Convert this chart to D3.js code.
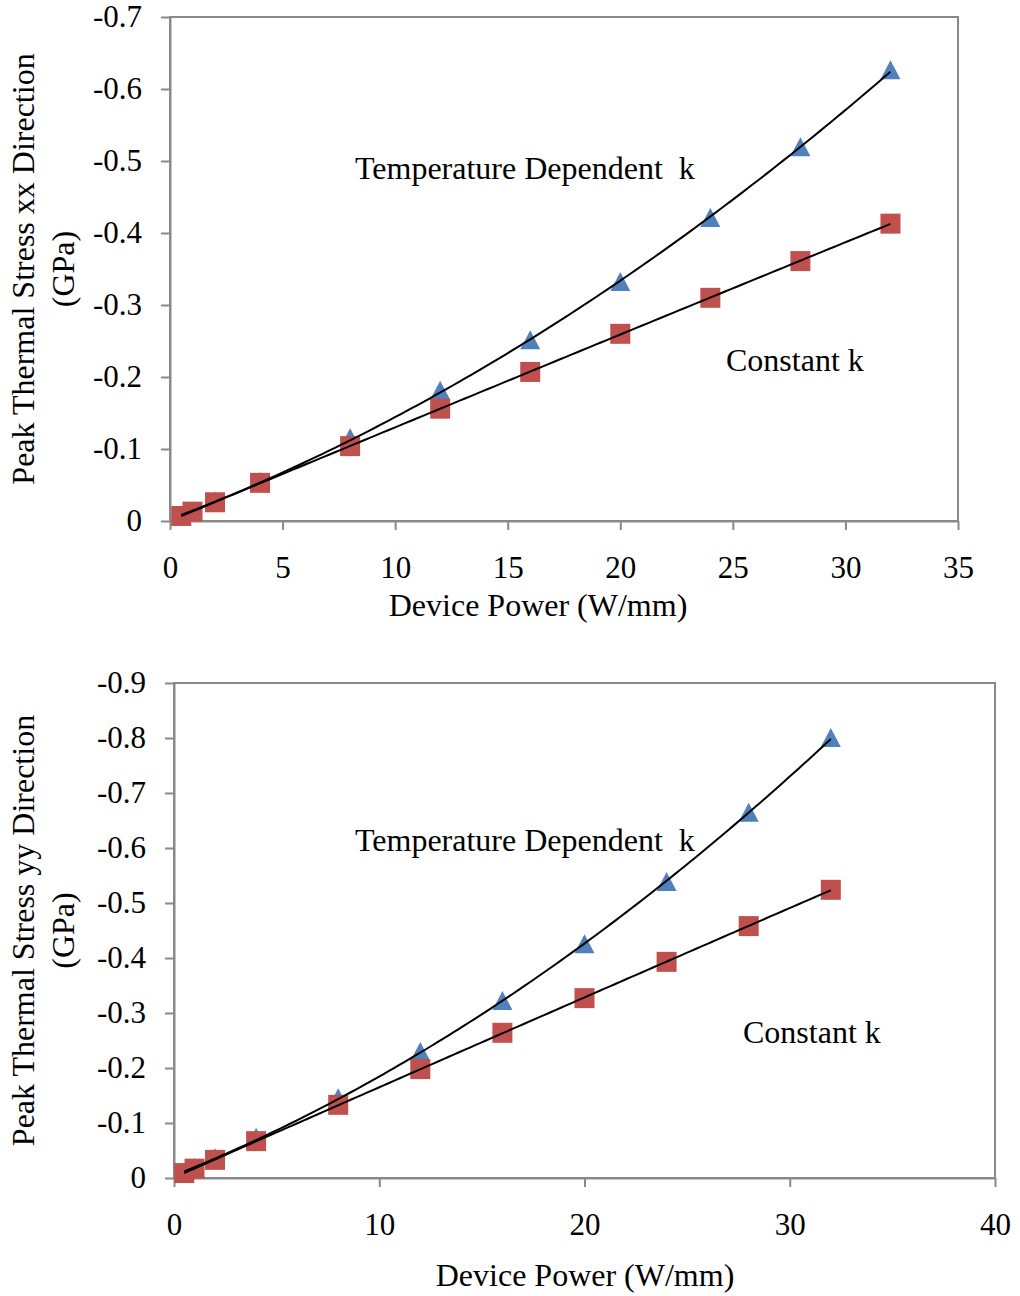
<!DOCTYPE html>
<html>
<head>
<meta charset="utf-8">
<script src="https://cdn.jsdelivr.net/npm/d3@7"></script>
<style>
  body { margin: 0; background: #fff; }
  text { font-family: "Liberation Serif", "Times New Roman", serif; fill: #000; }
</style>
</head>
<body>
<svg id="chart" width="1020" height="1296"></svg>
<script>
// device power (W/mm)
var power = [0.5, 1, 2, 4, 8, 12, 16, 20, 24, 28, 32];

// peak thermal stress xx (GPa)
var xxTempDep = [-0.007, -0.013, -0.027, -0.054, -0.115, -0.181, -0.251, -0.332, -0.421, -0.519, -0.626];
var xxConst   = [-0.007, -0.013, -0.026, -0.053, -0.104, -0.156, -0.207, -0.260, -0.310, -0.361, -0.413];

// peak thermal stress yy (GPa)
var yyTempDep = [-0.009, -0.018, -0.036, -0.073, -0.145, -0.229, -0.322, -0.425, -0.538, -0.664, -0.800];
var yyConst   = [-0.009, -0.017, -0.033, -0.067, -0.133, -0.198, -0.264, -0.327, -0.393, -0.458, -0.524];

var xTicksTop = [0, 5, 10, 15, 20, 25, 30, 35];
var yTicksTop = [0, -0.1, -0.2, -0.3, -0.4, -0.5, -0.6, -0.7];
var xTicksBot = [0, 10, 20, 30, 40];
var yTicksBot = [0, -0.1, -0.2, -0.3, -0.4, -0.5, -0.6, -0.7, -0.8, -0.9];

var svg = d3.select('#chart');
var grey = '#898989';
var blue = '#4f81bd';
var red = '#c0504d';

// least squares quadratic, like the spreadsheet trendline
function quadFit(xs, ys){
  var n = xs.length, s = [0,0,0,0,0], t = [0,0,0];
  for(var i = 0; i < n; i++){
    var x = xs[i], p = 1;
    for(var k = 0; k < 5; k++){ s[k] += p; if(k < 3) t[k] += p * ys[i]; p *= x; }
  }
  var m = [[s[0], s[1], s[2], t[0]], [s[1], s[2], s[3], t[1]], [s[2], s[3], s[4], t[2]]];
  for(var c = 0; c < 3; c++){
    for(var r = c + 1; r < 3; r++){
      var f = m[r][c] / m[c][c];
      for(var j = c; j < 4; j++) m[r][j] -= f * m[c][j];
    }
  }
  var a = [0,0,0];
  for(var r2 = 2; r2 >= 0; r2--){
    var v = m[r2][3];
    for(var j2 = r2 + 1; j2 < 3; j2++) v -= m[r2][j2] * a[j2];
    a[r2] = v / m[r2][r2];
  }
  return function(x){ return a[0] + a[1] * x + a[2] * x * x; };
}

function fmtY(d){ return d === 0 ? '0' : d.toFixed(1); }
function fmtX(d){ return String(d); }

function drawChart(opt){
  var x = d3.scaleLinear().domain(opt.xDomain).range([opt.left, opt.right]);
  var y = d3.scaleLinear().domain(opt.yDomain).range([opt.bottom, opt.top]);
  var g = svg.append('g');

  // frame
  g.append('rect')
    .attr('x', opt.left).attr('y', opt.top)
    .attr('width', opt.right - opt.left).attr('height', opt.bottom - opt.top)
    .attr('fill', 'none').attr('stroke', grey).attr('stroke-width', 2);

  var xAxis = g.append('g')
    .attr('transform', 'translate(0,' + opt.bottom + ')')
    .call(d3.axisBottom(x).tickValues(opt.xTicks).tickSize(9).tickSizeOuter(0).tickPadding(26).tickFormat(fmtX));
  var yAxis = g.append('g')
    .attr('transform', 'translate(' + opt.left + ',0)')
    .call(d3.axisLeft(y).tickValues(opt.yTicks).tickSize(9).tickSizeOuter(0).tickPadding(19).tickFormat(fmtY));
  [xAxis, yAxis].forEach(function(a){
    a.select('.domain').attr('stroke', grey).attr('stroke-width', 2);
    a.selectAll('.tick line').attr('stroke', grey).attr('stroke-width', 2);
    a.selectAll('.tick text').style('font-size', '31px').attr('fill', '#000')
      .style('font-family', '"Liberation Serif", serif');
  });

  var tri = opt.series[0], sq = opt.series[1];

  // triangles
  g.selectAll('.tri').data(power).enter().append('path')
    .attr('d', function(d, i){
      var cx = x(d), cy = y(tri[i]);
      return 'M' + cx + ',' + (cy - 10) + 'L' + (cx + 10) + ',' + (cy + 9) + 'L' + (cx - 10) + ',' + (cy + 9) + 'Z';
    })
    .attr('fill', blue);

  // squares
  g.selectAll('.sq').data(power).enter().append('rect')
    .attr('x', function(d){ return x(d) - 10; })
    .attr('y', function(d, i){ return y(sq[i]) - 10; })
    .attr('width', 20).attr('height', 20)
    .attr('fill', red);

  // trendlines
  [tri, sq].forEach(function(vals){
    var f = quadFit(power, vals);
    var xs = d3.range(0, 121).map(function(k){ return power[0] + (power[power.length - 1] - power[0]) * k / 120; });
    g.append('path')
      .datum(xs)
      .attr('fill', 'none').attr('stroke', '#000').attr('stroke-width', 2)
      .attr('d', d3.line().x(function(d){ return x(d); }).y(function(d){ return y(f(d)); }));
  });

  // labels
  g.append('text').attr('x', opt.tempLabel[0]).attr('y', opt.tempLabel[1])
    .style('font-size', '32px').style('white-space', 'pre').text('Temperature Dependent  k');
  g.append('text').attr('x', opt.constLabel[0]).attr('y', opt.constLabel[1])
    .style('font-size', '32px').text('Constant k');

  g.append('text').attr('x', opt.xTitleX).attr('y', opt.xTitleY)
    .attr('text-anchor', 'middle').style('font-size', '32px').text('Device Power (W/mm)');

  var cy = (opt.top + opt.bottom) / 2;
  g.append('text').attr('transform', 'translate(34,' + cy + ') rotate(-90)')
    .attr('text-anchor', 'middle').style('font-size', '32px').text(opt.yTitle);
  g.append('text').attr('transform', 'translate(74,' + cy + ') rotate(-90)')
    .attr('text-anchor', 'middle').style('font-size', '32px').text('(GPa)');
}

drawChart({
  left: 170, right: 958, top: 17, bottom: 521,
  xDomain: [0, 35], yDomain: [0, -0.7],
  xTicks: xTicksTop, yTicks: yTicksTop,
  series: [xxTempDep, xxConst],
  tempLabel: [355, 179], constLabel: [726, 371],
  xTitleX: 538, xTitleY: 616,
  yTitle: 'Peak Thermal Stress xx Direction'
});

drawChart({
  left: 174, right: 995, top: 683, bottom: 1178,
  xDomain: [0, 40], yDomain: [0, -0.9],
  xTicks: xTicksBot, yTicks: yTicksBot,
  series: [yyTempDep, yyConst],
  tempLabel: [355, 851], constLabel: [743, 1043],
  xTitleX: 585, xTitleY: 1286,
  yTitle: 'Peak Thermal Stress yy Direction'
});
</script>
</body>
</html>
